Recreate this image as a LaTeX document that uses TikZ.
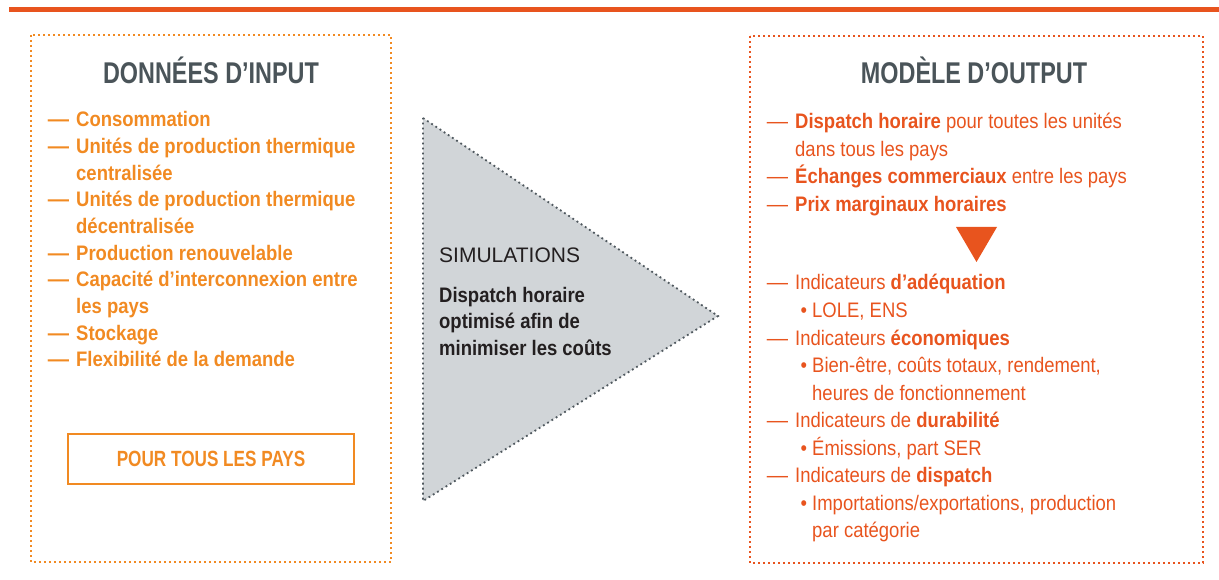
\documentclass[tikz,border=0pt]{standalone}
\usepackage{fontspec}
\setmainfont{Liberation Sans}
\newfontfamily\condf[FakeStretch=0.88]{Liberation Sans}
\newfontfamily\titlef[FakeStretch=0.78]{Liberation Sans}
\definecolor{barorange}{HTML}{E8541E}
\definecolor{inorange}{HTML}{F18A22}
\definecolor{outorange}{HTML}{E8541E}
\definecolor{titlegray}{HTML}{4A5459}
\definecolor{simfill}{HTML}{D1D5D8}
\definecolor{simtext}{HTML}{231F20}
\definecolor{dotgray}{HTML}{4F585E}
\newcommand{\dashmk}{\llap{\scalebox{1.15}[1]{—}\hspace{7pt}}}
\newcommand{\bulmk}{\llap{•\hspace{5pt}}}
\tikzset{
  dotbox/.style={line width=1.8pt, dash pattern=on 1.8pt off 3.2pt},
  titletxt/.style={anchor=base, inner sep=0pt, text=titlegray, font=\titlef\bfseries\fontsize{30}{34}\selectfont},
  initem/.style={anchor=base west, inner sep=0pt, text=inorange, font=\condf\bfseries\fontsize{21}{25}\selectfont},
  outitem/.style={anchor=base west, inner sep=0pt, text=outorange, font=\condf\fontsize{21}{25}\selectfont},
  simitem/.style={anchor=base west, inner sep=0pt, text=simtext, font=\condf\bfseries\fontsize{21}{25}\selectfont},
}
\begin{document}
\begin{tikzpicture}[x=1pt,y=-1pt]
\useasboundingbox (0,0) rectangle (1219,580);
% top bar
\fill[barorange] (9,7) rectangle (1219,12.3);
% boxes
\draw[dotbox, draw=inorange] (31,35) rectangle (391,562);
\draw[dotbox, draw=outorange] (750,36) rectangle (1203,563);
% input
\node[titletxt] (intitle) at (211,84) {DONNÉES D’INPUT};
\node[initem] (in1) at (76,127) {\dashmk Consommation};
\node[initem] (in2) at (76,153.65) {\dashmk Unités de production thermique};
\node[initem] (in2b) at (76,180.3) {centralisée};
\node[initem] (in3) at (76,206.95) {\dashmk Unités de production thermique};
\node[initem] (in3b) at (76,233.6) {décentralisée};
\node[initem] (in4) at (76,260.25) {\dashmk Production renouvelable};
\node[initem] (in5) at (76,286.9) {\dashmk Capacité d’interconnexion entre};
\node[initem] (in5b) at (76,313.55) {les pays};
\node[initem] (in6) at (76,340.2) {\dashmk Stockage};
\node[initem] (in7) at (76,366.85) {\dashmk Flexibilité de la demande};
\node[draw=inorange, line width=2pt, minimum width=286pt, minimum height=50pt, inner sep=0pt,
      text=inorange, font=\titlef\bfseries\fontsize{22}{25}\selectfont] (pour) at (211,459) {POUR TOUS LES PAYS};
% simulation triangle
\filldraw[fill=simfill, draw=dotgray, line width=1.8pt, dash pattern=on 1.8pt off 3.2pt]
  (423,118) -- (718,316) -- (423,501) -- cycle;
\node[anchor=base west, inner sep=0pt, text=simtext, font=\fontsize{21}{25}\selectfont] (simt) at (439,263) {SIMULATIONS};
\node[simitem] (sim1) at (439,302) {Dispatch horaire};
\node[simitem] (sim2) at (439,328.5) {optimisé afin de};
\node[simitem] (sim3) at (439,355) {minimiser les coûts};
% output
\node[titletxt] (outtitle) at (974,84) {MODÈLE D’OUTPUT};
\node[outitem] (o1) at (795,129) {\dashmk\textbf{Dispatch horaire} pour toutes les unités};
\node[outitem] (o1b) at (795,156.5) {dans tous les pays};
\node[outitem] (o2) at (795,184) {\dashmk\textbf{Échanges commerciaux} entre les pays};
\node[outitem] (o3) at (795,211.5) {\dashmk\textbf{Prix marginaux horaires}};
\fill[outorange] (956,227) -- (997,227) -- (976.5,262) -- cycle;
\node[outitem] (i1) at (795,290) {\dashmk Indicateurs \textbf{d’adéquation}};
\node[outitem] (i1a) at (812,317.5) {\bulmk LOLE, ENS};
\node[outitem] (i2) at (795,345) {\dashmk Indicateurs \textbf{économiques}};
\node[outitem] (i2a) at (812,372.5) {\bulmk Bien-être, coûts totaux, rendement,};
\node[outitem] (i2b) at (812,400) {heures de fonctionnement};
\node[outitem] (i3) at (795,427.5) {\dashmk Indicateurs de \textbf{durabilité}};
\node[outitem] (i3a) at (812,455) {\bulmk Émissions, part SER};
\node[outitem] (i4) at (795,482.5) {\dashmk Indicateurs de \textbf{dispatch}};
\node[outitem] (i4a) at (812,510) {\bulmk Importations/exportations, production};
\node[outitem] (i4b) at (812,537.5) {par catégorie};
\end{tikzpicture}
\end{document}
